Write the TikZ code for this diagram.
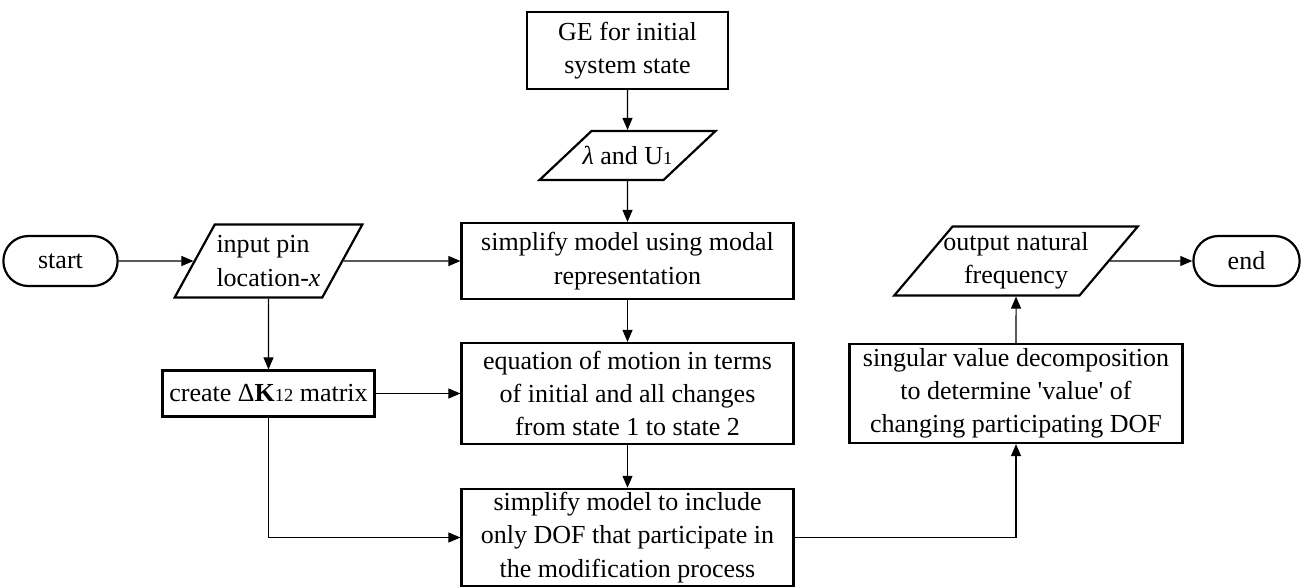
\documentclass[tikz,border=0pt]{standalone}
\usepackage{fontspec}
\setmainfont{Liberation Serif}[Ligatures=TeXOff]
\usetikzlibrary{positioning,shapes.geometric,shapes.misc,arrows.meta}

\newcommand{\smallidx}[1]{{\fontsize{10.5}{10.5}\selectfont #1}}

\begin{document}
\begin{tikzpicture}[
  node distance=2cm,
  font=\fontsize{14.8}{18.9}\selectfont,
  stepbox/.style={rectangle, draw, line width=1.25pt, align=center, inner sep=2pt},
  iobox/.style={trapezium, trapezium stretches body, draw, line width=1.25pt, align=center, inner sep=1pt},
  termbox/.style={rounded rectangle, draw, line width=1.25pt, minimum height=1cm},
  flow/.style={-{Triangle[length=0.24cm,width=0.2cm]}, line width=0.6pt}
]
\useasboundingbox (0,0) rectangle (26.02,-11.74);

% main column
\node[stepbox, minimum width=4.02cm, minimum height=1.54cm] (ge) at (12.55,-1.01) {GE for initial\\system state};
\node[iobox, inner xsep=-5.5pt, trapezium left angle=23, trapezium right angle=157, minimum width=3.52cm, minimum height=0.98cm, below of=ge, yshift=-0.1cm] (lam) {{\itshape λ} and U\smallidx{1}};
\node[stepbox, minimum width=6.64cm, minimum height=1.52cm, below of=lam, yshift=-0.11cm] (modal) {simplify model using modal\\representation};
\node[stepbox, minimum width=6.64cm, minimum height=2.02cm, below of=modal, yshift=-0.65cm] (eqm) {equation of motion in terms\\of initial and all changes\\from state 1 to state 2};
\node[stepbox, minimum width=6.64cm, minimum height=1.94cm, below of=eqm, yshift=-0.88cm] (simp) {simplify model to include\\only DOF that participate in\\the modification process};

% left side
\node[iobox, align=left, trapezium left angle=53.5, trapezium right angle=126.5, minimum width=3.74cm, minimum height=1.46cm, left of=modal, xshift=-5.18cm] (input) {input pin\\location-\textit{x}};
\node[termbox, minimum width=2.52cm, left of=input, xshift=-2.16cm] (start) {start};
\node[stepbox, minimum width=4.24cm, minimum height=0.92cm, below of=input, yshift=-0.65cm] (create) {create Δ\textbf{K}\smallidx{12} matrix};

% right side
\node[iobox, inner xsep=-5.2pt, trapezium left angle=46, trapezium right angle=134, minimum width=4.86cm, minimum height=1.38cm, right of=modal, xshift=5.77cm] (output) {output natural\\frequency};
\node[termbox, minimum width=2.36cm, right of=output, xshift=2.61cm] (finish) {end};
\node[stepbox, minimum width=6.66cm, minimum height=1.98cm, below of=output, yshift=-0.65cm] (svd) {singular value decomposition\\to determine 'value' of\\changing participating DOF};

% connectors
\draw[flow] (ge) -- (lam);
\draw[flow] (lam) -- (modal);
\draw[flow] (modal) -- (eqm);
\draw[flow] (eqm) -- (simp);
\draw[flow] (start) -- (input);
\draw[flow] (input) -- (modal);
\draw[flow] (input) -- (create);
\draw[flow] (create) -- (eqm);
\draw[flow] (create) |- (simp);
\draw[flow] (simp) -| (svd);
\draw[flow] (svd) -- (output);
\draw[flow] (output) -- (finish);
\end{tikzpicture}
\end{document}
